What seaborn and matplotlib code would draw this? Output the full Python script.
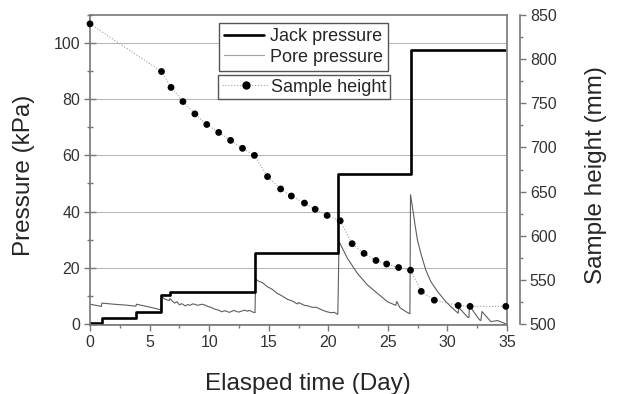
import matplotlib
matplotlib.use("Agg")
import matplotlib.pyplot as plt
from matplotlib.lines import Line2D
from matplotlib.ticker import MultipleLocator
import seaborn as sns

# Jack pressure (kPa), step changes
jack_time = [0, 0.98, 3.87, 5.97, 6.73, 13.88, 20.84, 26.92, 34.85]
jack_kpa = [0.3, 2.0, 4.2, 10.3, 11.5, 25.4, 53.4, 97.5, 97.5]

# Pore pressure (kPa)
pore_time = [0, 0.5, 0.95, 1.0, 2.0, 3.0, 3.85, 3.9, 5.0, 5.95, 6.0, 6.3, 6.65, 6.7,
             7.1, 7.3, 7.5, 7.7, 8.0, 8.2, 8.4, 8.6, 8.8, 9.0, 9.2, 9.4, 9.65, 9.9,
             10.1, 10.3, 10.5, 10.8, 11.05, 11.3, 11.5, 11.7, 11.9, 12.1, 12.3, 12.5,
             12.74, 13.0, 13.2, 13.4, 13.6, 13.85, 13.9, 14.1, 14.5, 14.86, 15.3,
             15.7, 16.1, 16.55, 17.0, 17.4, 17.5, 18.0, 18.3, 18.65, 19.0, 19.35,
             19.8, 20.2, 20.5, 20.8, 20.9, 21.6, 22.44, 23.28, 24.12,
             24.96, 25.5, 25.66, 25.75, 26.0, 26.5, 26.85, 26.9, 27.06, 27.26, 27.48,
             27.76, 28.18, 28.6, 29.17, 29.87, 30.57, 30.9, 30.95, 31.7, 31.8, 31.85,
             32.7, 32.8, 32.9, 33.65, 34.2, 34.9]
pore_kpa = [7.0, 6.6, 6.2, 7.4, 7.0, 6.7, 6.3, 7.0, 6.0, 5.0, 9.7, 8.8, 8.3, 9.0,
            7.4, 7.9, 6.8, 7.2, 6.4, 6.9, 6.6, 7.1, 7.0, 6.6, 6.8, 7.0, 6.7, 6.2,
            6.0, 5.6, 5.2, 4.9, 4.3, 4.7, 4.4, 4.1, 4.5, 4.8, 4.4, 4.2,
            4.6, 4.9, 4.5, 4.8, 4.3, 4.0, 16.0, 15.3, 14.6, 13.3, 12.3,
            10.9, 10.0, 8.8, 8.1, 7.1, 7.6, 6.6, 6.4, 5.9, 5.9, 5.2,
            4.4, 4.0, 4.1, 3.4, 29.3, 23.4, 18.0, 13.9, 10.9,
            7.9, 6.9, 6.6, 8.0, 5.8, 4.4, 3.6, 46.0, 41.7, 35.8, 29.9,
            25.2, 19.2, 15.1, 11.5, 7.9, 5.0, 3.8, 5.8, 2.4, 2.2, 6.4,
            1.4, 1.2, 4.4, 0.8, 1.2, 0.0]

# Sample height (mm)
height_time = [0, 6.0, 6.8, 7.8, 8.8, 9.8, 10.8, 11.8, 12.8, 13.8, 14.9, 16.0, 16.9,
               18.0, 18.9, 19.9, 21.0, 22.0, 23.0, 24.0, 24.9, 25.9, 26.9, 27.8,
               28.9, 30.9, 31.9, 34.9]
height_mm = [840, 786, 768, 752, 738, 726, 717, 708, 699, 691, 667, 653, 645,
             637, 630, 623, 617, 591, 580, 572, 568, 564, 561, 537,
             527, 521, 520, 520]

sns.set_style("ticks")
plt.rcParams['font.family'] = ['Liberation Sans', 'DejaVu Sans']

spine_col = '#777777'
tick_lab = '#333333'

fig = plt.figure(figsize=(6.19, 3.94), dpi=100)
ax = fig.add_axes([0.1454, 0.1751, 0.6737, 0.7868])

ax.yaxis.grid(True, color='#b8b8b8', lw=0.8)
ax.set_axisbelow(True)

sns.lineplot(x=pore_time, y=pore_kpa, ax=ax, color='#5e5e5e', lw=0.8,
             estimator=None, sort=False)
sns.lineplot(x=jack_time, y=jack_kpa, ax=ax, color='black', lw=1.9,
             drawstyle='steps-post', estimator=None, sort=False)

ax.set_xlim(0, 35)
ax.set_ylim(-0.4, 110)
ax.xaxis.set_major_locator(MultipleLocator(5))
ax.xaxis.set_minor_locator(MultipleLocator(2.5))
ax.yaxis.set_major_locator(MultipleLocator(20))
ax.yaxis.set_minor_locator(MultipleLocator(10))
ax.tick_params(axis='x', which='major', direction='out', length=4, width=1,
               color=spine_col, labelcolor=tick_lab, labelsize=11.5, pad=3)
ax.tick_params(axis='x', which='minor', direction='out', length=2.5, width=1,
               color=spine_col)
ax.tick_params(axis='y', which='major', direction='inout', length=8, width=1,
               color=spine_col, labelcolor=tick_lab, labelsize=11.5, pad=3)
ax.tick_params(axis='y', which='minor', direction='inout', length=5, width=1,
               color=spine_col)
for s in ax.spines.values():
    s.set_color(spine_col)
    s.set_linewidth(1.2)

ax.set_xlabel('Elasped time (Day)', fontsize=17.5)
ax.xaxis.set_label_coords(0.5216, -0.155)
ax.set_ylabel('Pressure (kPa)', fontsize=17.5)
ax.yaxis.set_label_coords(-0.132, 0.484)

# Right axis for sample height
ax2 = ax.twinx()
sns.lineplot(x=height_time, y=height_mm, ax=ax2, color='#a0a0a0', lw=0.8,
             linestyle=':', estimator=None, sort=False)
sns.scatterplot(x=height_time, y=height_mm, ax=ax2, color='black', s=24,
                edgecolor='none', zorder=3, clip_on=False)
ax2.set_ylim(498.9, 850)
ax2.yaxis.set_major_locator(MultipleLocator(50))
ax2.yaxis.set_minor_locator(MultipleLocator(25))
ax2.tick_params(axis='y', which='major', direction='out', length=4, width=1,
                color=spine_col, labelcolor=tick_lab, labelsize=11.5, pad=3)
ax2.tick_params(axis='y', which='minor', direction='out', length=2.5, width=1,
                color=spine_col)
for name, s in ax2.spines.items():
    if name == 'right':
        s.set_position(('outward', 9.4))
        s.set_bounds(500, 850)
        s.set_color(spine_col)
        s.set_linewidth(1.2)
    else:
        s.set_visible(False)
ax2.set_ylabel('Sample height (mm)', fontsize=17.5)
ax2.yaxis.set_label_coords(1.187, 0.484)

# Legends
h_jack = Line2D([], [], color='black', lw=1.9)
h_pore = Line2D([], [], color='#a0a0a0', lw=0.8)
h_height = Line2D([], [], color='#a0a0a0', lw=0.8, ls=':', marker='o',
                  markersize=5, markerfacecolor='black', markeredgecolor='black')

leg1 = ax2.legend([h_jack, h_pore], ['Jack pressure', 'Pore pressure'],
                  loc='upper right', bbox_to_anchor=(0.7146, 0.975), fontsize=13,
                  frameon=True, fancybox=False, edgecolor='#555555', framealpha=1,
                  borderaxespad=0, borderpad=0.3, labelspacing=0.2,
                  handlelength=2.2, handletextpad=0.3)
leg1.get_frame().set_linewidth(1.0)
ax2.add_artist(leg1)
leg2 = ax2.legend([h_height], ['Sample height'],
                  loc='upper right', bbox_to_anchor=(0.719, 0.806), fontsize=13,
                  frameon=True, fancybox=False, edgecolor='#555555', framealpha=1,
                  borderaxespad=0, borderpad=0.2, handlelength=2.6,
                  handletextpad=0.1)
leg2.get_frame().set_linewidth(1.0)

fig.savefig('out.png', dpi=100)
